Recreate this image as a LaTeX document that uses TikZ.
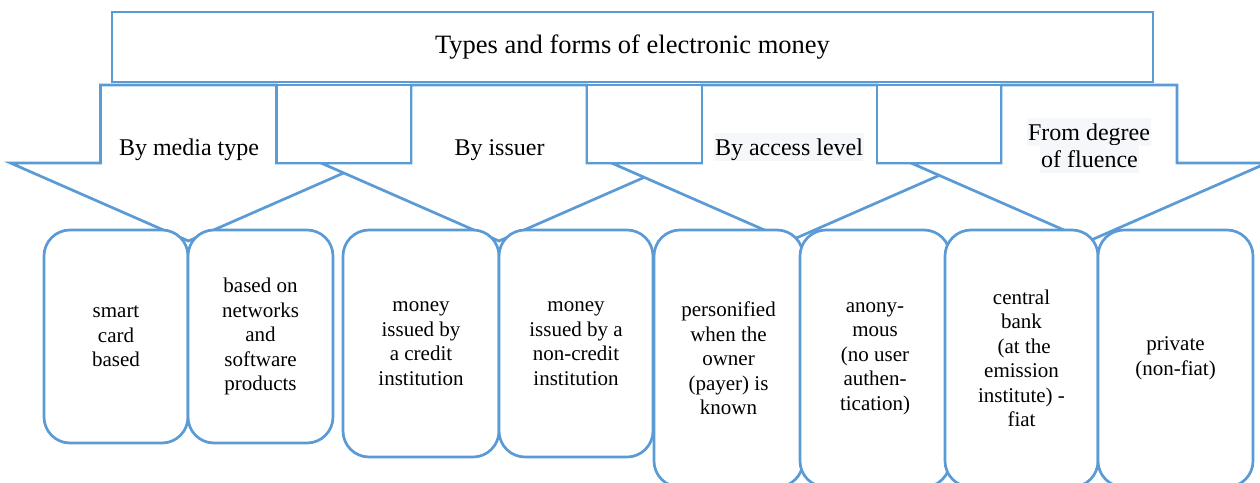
\documentclass[tikz,border=0pt]{standalone}
\usepackage{fontspec}
\setmainfont{Liberation Serif}
\definecolor{edge}{HTML}{5B9BD5}
\definecolor{hl}{HTML}{F5F7FA}
\begin{document}
\begin{tikzpicture}[x=1pt,y=-1pt,
  shapeline/.style={draw=edge,line width=2.7pt,fill=white,line join=miter},
  itembox/.style={draw=edge,line width=2.7pt,fill=white,rounded corners=26pt,
    align=center,font=\fontsize{21}{24.5}\selectfont,inner sep=0pt},
  armlabel/.style={font=\fontsize{24}{27}\selectfont,inner sep=0pt,anchor=base},
  hllabel/.style={armlabel,fill=hl,inner xsep=1.5pt,text height=22pt,text depth=6pt},
]
\clip (0,0) rectangle (1260,482);
% title
\node[draw=edge,line width=2.7pt,fill=white,minimum width=1041pt,minimum height=70pt,
  inner sep=0pt,font=\fontsize{26.5}{30}\selectfont] (title) at (632.5,47) {Types and forms of electronic money};
% down arrows
\foreach \c in {188.5,499,789.5,1089}{
  \draw[shapeline] (\c-88,85) -- (\c+88,85) -- (\c+88,163) -- (\c+178,163)
    -- (\c,241) -- (\c-178,163) -- (\c-88,163) -- cycle;
}
% connecting blocks between the arrow shafts
\draw[shapeline] (277,85) rectangle (411,163);
\draw[shapeline] (587,85) rectangle (702,163);
\draw[shapeline] (877,85) rectangle (1001,163);
\node[armlabel] (a1) at (189,155) {By media type};
\node[armlabel] (a2) at (499.5,155) {By issuer};
\node[hllabel] (a3) at (789,155) {By access level};
\node[hllabel] (a4a) at (1089,140) {From degree};
\node[hllabel] (a4b) at (1089.5,167) {of fluence};
% category boxes
\node[itembox,minimum width=144pt,minimum height=213pt] (b1) at (116,336.5) {smart\\card\\based};
\node[itembox,minimum width=145pt,minimum height=213pt] (b2) at (260.5,336.5) {based on\\networks\\and\\software\\products};
\node[itembox,minimum width=156pt,minimum height=227pt] (b3) at (421,343.5) {money\\issued by\\a credit\\institution};
\node[itembox,minimum width=154pt,minimum height=227pt] (b4) at (576,343.5) {money\\issued by a\\non-credit\\institution};
\node[itembox,minimum width=149pt,minimum height=257pt] (b5) at (728.5,358.5) {personified\\when the\\owner\\(payer) is\\known};
\node[itembox,minimum width=150pt,minimum height=257pt] (b6) at (875,358.5) {anony-\\mous\\(no user\\authen-\\tication)};
\node[itembox,minimum width=153pt,minimum height=257pt] (b7) at (1021.5,358.5) {central\\bank\\\ (at the\\emission\\institute) -\\fiat};
\node[itembox,minimum width=155pt,minimum height=257pt] (b8) at (1175.5,358.5) {private\\(non-fiat)};
\end{tikzpicture}
\end{document}
